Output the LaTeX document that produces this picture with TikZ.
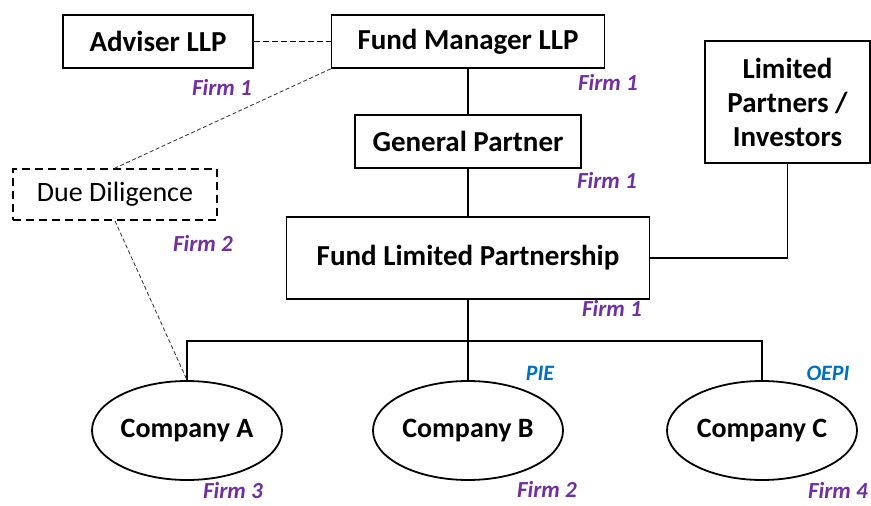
\documentclass[tikz,border=0pt]{standalone}
\usepackage{fontspec}
\setmainfont{Carlito}
\usetikzlibrary{positioning}
\usetikzlibrary{shapes.geometric}
\definecolor{firmpurple}{HTML}{7030A0}
\definecolor{tagblue}{HTML}{0070C0}
\tikzset{box node/.style={rectangle,draw,line width=1.8pt,inner sep=0pt,font=\fontsize{29}{34}\selectfont\bfseries},
  company node/.style={ellipse,draw,line width=1.8pt,inner sep=0pt,minimum width=190pt,minimum height=99pt,font=\fontsize{28}{32}\selectfont\bfseries},
  firm label/.style={inner sep=0pt,text=firmpurple,font=\fontsize{23}{26}\selectfont\bfseries\itshape},
  tag label/.style={inner sep=0pt,text=tagblue,font=\fontsize{22}{26}\selectfont\bfseries\itshape},
  link/.style={line width=1.8pt},}

\begin{document}
\begin{tikzpicture}[x=1pt,y=-1pt]
   \useasboundingbox (0,0) rectangle (871,506);
   \node[box node,minimum width=273pt,minimum height=53pt] (fm) at (468,41.5) {Fund Manager LLP};
   \node[box node,minimum width=190pt,minimum height=53pt] (adv) at (158,41.5) {Adviser LLP};
   \node[box node,minimum width=226pt,minimum height=53pt] (gp) [below = 45pt of fm] {General Partner};
   \node[box node,minimum width=363pt,minimum height=82pt] (flp) [below = 47pt of gp] {Fund Limited Partnership};
   \node[box node,minimum width=165pt,minimum height=122pt,align=center] (lp) at (787.5,102) {Limited\\Partners /\\Investors};
   \node[box node,dash pattern=on 8pt off 5pt,font=\fontsize{28}{32}\selectfont,minimum width=204pt,minimum height=51pt] (dd) at (115,194.5) {Due Diligence};
   \node[company node] (ca) at (187,430.5) {Company A};
   \node[company node] (cb) at (468,430.5) {Company B};
   \node[company node] (cc) at (762,430.5) {Company C};
   \coordinate (bus) at (468,341);

   \node[firm label] (f1a) at (222,87) {Firm 1};
   \node[firm label] (f1b) at (608,82) {Firm 1};
   \node[firm label] (f1c) at (607,180) {Firm 1};
   \node[firm label] (f2a) at (203,243) {Firm 2};
   \node[firm label] (f1d) at (612,308) {Firm 1};
   \node[tag label] (pie) at (540,373) {PIE};
   \node[tag label] (oepi) at (828,373) {OEPI};
   \node[firm label] (f3) at (233,491) {Firm 3};
   \node[firm label] (f2b) at (547,489) {Firm 2};
   \node[firm label] (f4) at (838,490) {Firm 4};

    \draw[link] (fm) -- (gp);
    \draw[link] (gp) -- (flp);
    \draw[link] (flp.south) -- (cb.north);
    \draw[link] (ca.north) |- (bus) -| (cc.north);
    \draw[link] (flp.east) -| (lp.south);
    \draw[line width=1.4pt,dash pattern=on 6pt off 3pt] (adv.east) -- (fm.west);
    \draw[line width=0.9pt,dash pattern=on 4pt off 2.5pt,black!75] (fm.south west) -- (dd.north);
    \draw[line width=0.9pt,dash pattern=on 4pt off 2.5pt,black!75] (dd.south) -- (ca.north);
  \end{tikzpicture}
\end{document}
